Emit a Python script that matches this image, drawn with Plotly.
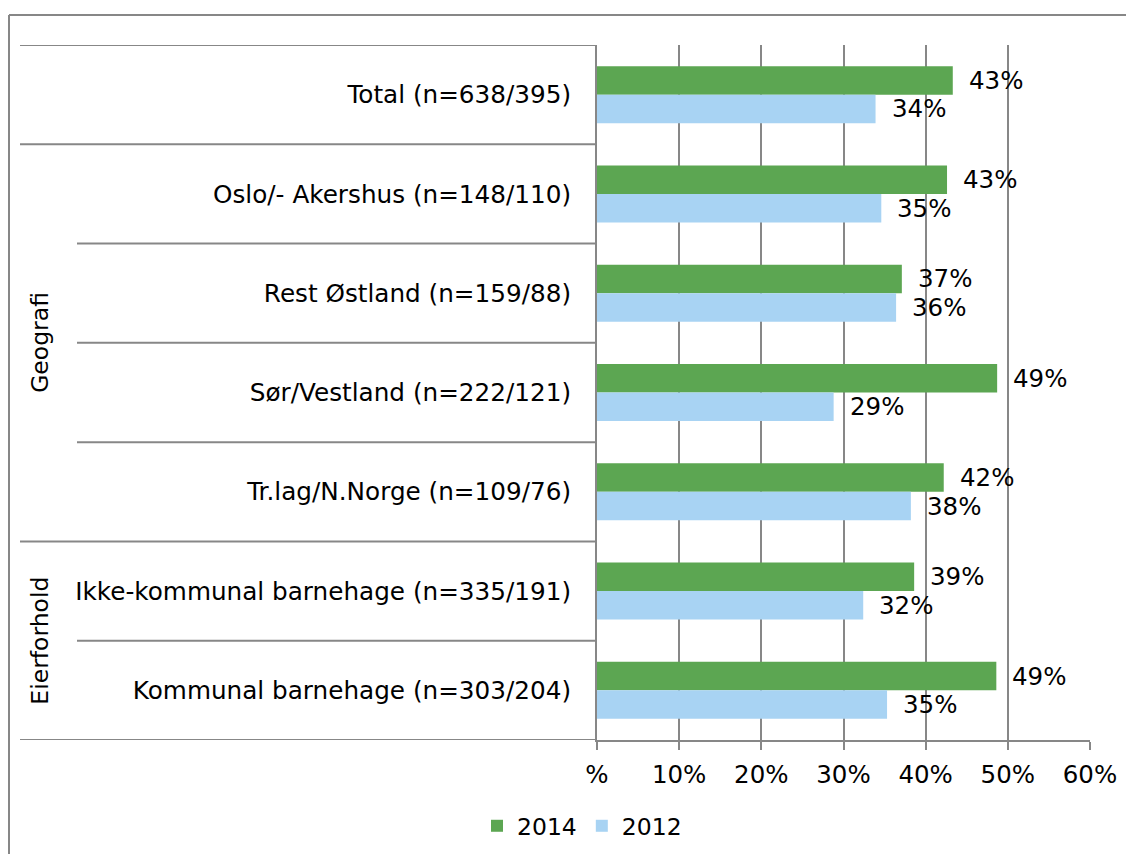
import plotly.graph_objects as go

categories = [
    "Total (n=638/395)",
    "Oslo/- Akershus (n=148/110)",
    "Rest Østland (n=159/88)",
    "Sør/Vestland (n=222/121)",
    "Tr.lag/N.Norge (n=109/76)",
    "Ikke-kommunal barnehage (n=335/191)",
    "Kommunal barnehage (n=303/204)",
]
values_2014 = [43.3, 42.6, 37.1, 48.7, 42.2, 38.6, 48.6]
values_2012 = [33.9, 34.6, 36.4, 28.8, 38.2, 32.4, 35.3]
series_names = ["2014", "2012"]
tick_vals = [0, 10, 20, 30, 40, 50, 60]
tick_text = ["%", "10%", "20%", "30%", "40%", "50%", "60%"]
groups = [("Geografi", 1, 4), ("Eierforhold", 5, 6)]

GREEN = "#5ca652"
BLUE = "#a8d3f3"
GRID = "#878787"
FONT = "DejaVu Sans"
FS = 24.7

# page offset (browser body margin)
OFF = 8
# pixel geometry of plot area in the page
L, R, T, B = 597, 1090, 45, 740
PAGE_W, PAGE_H = 1134, 854
W, H = PAGE_W - OFF, PAGE_H - OFF
PW, PH = R - L, B - T


def px_x(p):
    return (p - L) / PW


def px_y(p):
    return (B - p) / PH


ypos = list(range(len(categories)))

fig = go.Figure()
fig.add_trace(go.Bar(y=ypos, x=values_2014, orientation="h", name=series_names[0],
                     marker=dict(color=GREEN, line=dict(width=0))))
fig.add_trace(go.Bar(y=ypos, x=values_2012, orientation="h", name=series_names[1],
                     marker=dict(color=BLUE, line=dict(width=0))))

bargap = 0.426
half = (1 - bargap) / 4
annotations = []
for i in ypos:
    for v, off in ((values_2014[i], -half), (values_2012[i], half)):
        annotations.append(dict(x=v, y=i + off, xref="x", yref="y", text=f"{round(v)}%",
                                showarrow=False, xanchor="left", yanchor="middle", xshift=14,
                                font=dict(family=FONT, size=24.5, color="#000")))
for name, a, b in groups:
    annotations.append(dict(x=px_x(40), y=(a + b) / 2, xref="paper", yref="y", text=name,
                            showarrow=False, textangle=-90, xanchor="center", yanchor="middle",
                            font=dict(family=FONT, size=23.5, color="#000")))

shapes = []
long_bounds = {-0.5, 0.5, 4.5, 6.5}
for k in range(len(categories) + 1):
    yb = k - 0.5
    x0 = px_x(20) if yb in long_bounds else px_x(77)
    shapes.append(dict(type="line", xref="paper", yref="y", x0=x0, x1=0, y0=yb, y1=yb,
                       line=dict(color=GRID, width=2)))
# outer frame (top & left visible)
shapes.append(dict(type="line", xref="paper", yref="paper", x0=px_x(9), x1=px_x(1150),
                   y0=px_y(15), y1=px_y(15), line=dict(color=GRID, width=2)))
shapes.append(dict(type="line", xref="paper", yref="paper", x0=px_x(9), x1=px_x(9),
                   y0=px_y(15), y1=px_y(880), line=dict(color=GRID, width=2)))

fig.update_layout(
    width=W, height=H,
    margin=dict(l=L - OFF, r=PAGE_W - R, t=T - OFF, b=PAGE_H - B, pad=0, autoexpand=False),
    paper_bgcolor="white", plot_bgcolor="white",
    barmode="group", bargap=bargap, bargroupgap=0,
    font=dict(family=FONT, size=FS, color="#000"),
    xaxis=dict(range=[0, 60], tickvals=tick_vals, ticktext=tick_text,
               showgrid=True, gridcolor=GRID, gridwidth=1.5,
               showline=True, linecolor=GRID, linewidth=2,
               ticks="outside", ticklen=8, tickcolor=GRID, tickwidth=1.5,
               zeroline=False, fixedrange=True, ticklabelstandoff=4, automargin=False,
               tickfont=dict(family=FONT, size=24.5, color="#000")),
    yaxis=dict(range=[6.5, -0.5], tickvals=ypos, ticktext=categories,
               showgrid=False, zeroline=False, automargin=False,
               showline=True, linecolor=GRID, linewidth=2,
               ticks="", ticklabelstandoff=19,
               tickfont=dict(family=FONT, size=FS, color="#000")),
    legend=dict(orientation="h", x=px_x(582), xanchor="center",
                yref="container", y=(PAGE_H - 826) / H, yanchor="middle",
                font=dict(family=FONT, size=23.5, color="#000"), itemwidth=30,
                traceorder="normal"),
    annotations=annotations,
    shapes=shapes,
    showlegend=True,
)

fig.write_html("out.html")
